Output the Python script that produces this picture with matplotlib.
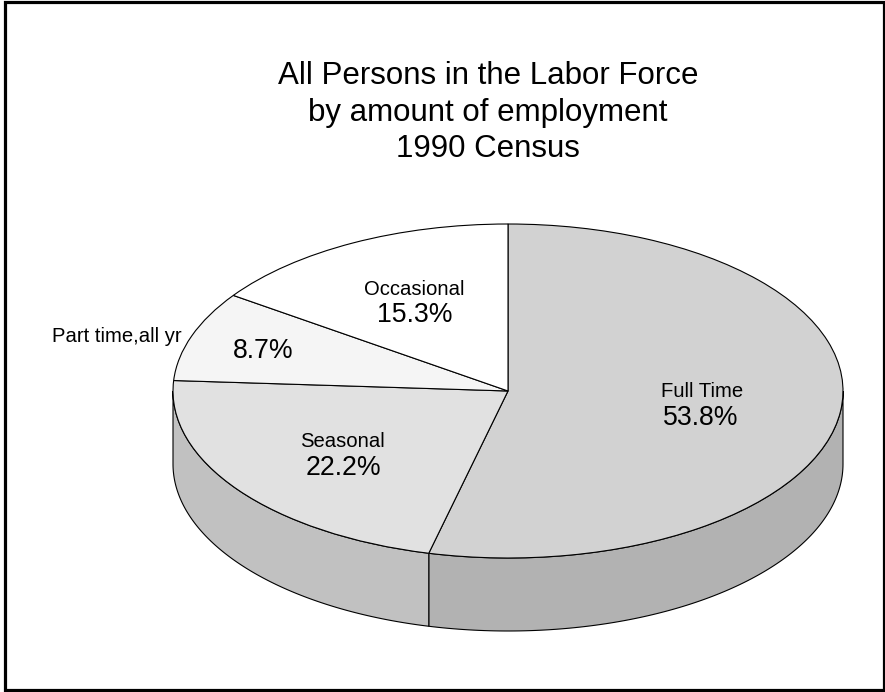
import numpy as np
import matplotlib.pyplot as plt
from matplotlib.patches import Polygon, Rectangle

# data
categories = ["Full Time", "Seasonal", "Part time,all yr", "Occasional"]
shares = [53.8, 22.2, 8.7, 15.3]
top_colors = ["#d2d2d2", "#e1e1e1", "#f5f5f5", "#ffffff"]
side_colors = ["#b2b2b2", "#c1c1c1", "#d6d6d6", "#e0e0e0"]
title_lines = ["All Persons in the Labor Force", "by amount of employment", "1990 Census"]

W, H = 885, 692
fig = plt.figure(figsize=(W / 100, H / 100), dpi=100)
ax = fig.add_axes([0, 0, 1, 1])

plt.rcParams['font.family'] = ['Liberation Sans', 'DejaVu Sans']

# top face: a pie squashed vertically by the axes scaling
wedges, _ = ax.pie(shares, colors=top_colors, startangle=90, counterclock=False,
                   wedgeprops=dict(edgecolor="black", linewidth=0.8, zorder=3))

# pixel geometry of the reference (centre, radii, thickness)
cx, cy = 508, 391
rx, ry = 335, 167
depth = 73 / ry

ax.set_aspect("auto")
ax.set_xlim(-cx / rx, (W - cx) / rx)
ax.set_ylim(-(H - cy) / ry, cy / ry)
ax.axis("off")

# side walls for the front half of the pie
for w, col in zip(wedges, side_colors):
    for lo, hi in [(-180, 0), (180, 360)]:
        t1, t2 = max(w.theta1, lo), min(w.theta2, hi)
        if t2 <= t1:
            continue
        t = np.radians(np.linspace(t1, t2, 120))
        top = np.column_stack([np.cos(t), np.sin(t)])
        bot = np.column_stack([np.cos(t), np.sin(t) - depth])[::-1]
        ax.add_patch(Polygon(np.vstack([top, bot]), closed=True, facecolor=col,
                             edgecolor="black", linewidth=0.8, zorder=1))


def px(x, y):
    return x / W, 1 - y / H


# slice labels (name above, percent below)
name_pos = [(702, 397), (342, 447), (117, 342), (414, 295)]
pct_pos = [(701, 425), (343, 475), (263, 358), (415, 322)]
for name, val, (nx, ny), (qx, qy) in zip(categories, shares, name_pos, pct_pos):
    fig.text(*px(nx, ny), name, fontsize=14.6, ha="center", va="baseline")
    fig.text(*px(qx, qy), f"{val:.1f}%", fontsize=19.2, ha="center", va="baseline")

for line, base in zip(title_lines, [84, 121, 157]):
    fig.text(*px(488, base), line, fontsize=22.5, ha="center", va="baseline")

# outer frame
fig.add_artist(Rectangle((4.5 / W, 2 / H), 879 / W, 688.5 / H, transform=fig.transFigure,
                         fill=False, edgecolor="black", linewidth=2.3))

fig.savefig("out.png", dpi=100)
